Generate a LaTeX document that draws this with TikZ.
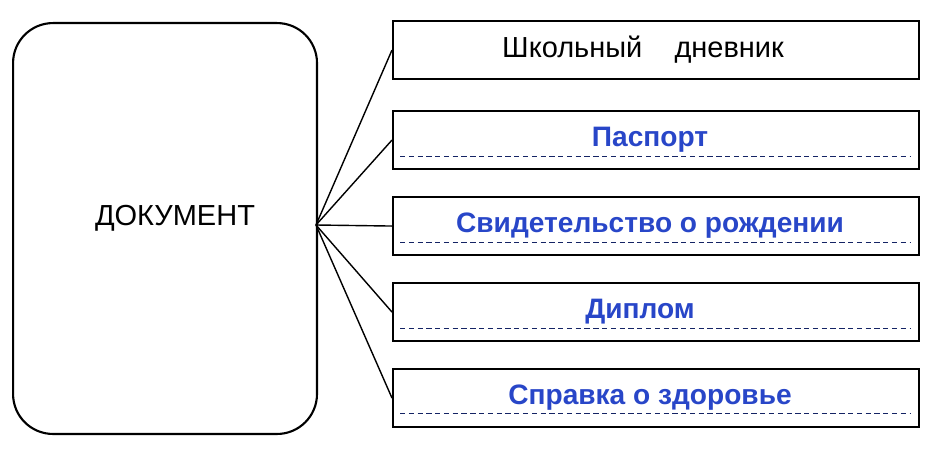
\documentclass[tikz,border=0pt]{standalone}
\usepackage{fontspec}
\setmainfont{Liberation Sans}
\definecolor{ansblue}{RGB}{40,70,200}
\begin{document}
\begin{tikzpicture}[x=0.02cm,y=-0.02cm,
  item/.style={draw,line width=1.2pt,minimum width=10.52cm,minimum height=1.16cm,anchor=north west,inner sep=0pt},
  ans/.style={text=ansblue,font=\fontsize{16}{18}\selectfont\bfseries},
  plain/.style={font=\fontsize{16.5}{18}\selectfont},
  dashline/.style={densely dashed,line width=0.5pt,ansblue!50!black}]
\useasboundingbox (0,0) rectangle (950,449);
\node[draw,line width=1.2pt,rounded corners=0.8cm,minimum width=6.08cm,minimum height=8.22cm,anchor=north west,inner sep=0pt] (doc) at (12,22) {};
\node[plain] (doct) at (175,218) {ДОКУМЕНТ};
\coordinate (hub) at (316,225);
\node[item] (b1) at (392,20) {};
\node[item] (b2) at (392,110) {};
\node[item] (b3) at (392,196) {};
\node[item] (b4) at (392,282) {};
\node[item] (b5) at (392,368) {};
\foreach \b in {b1,b2,b3,b4,b5} \draw[line width=0.8pt] (hub) -- (\b.west);
\node[plain] (t1) at (643,50) {Школьный\ \ \ \ дневник};
\foreach \y in {156,242,328,413} \draw[dashline] (400,\y) -- (910,\y);
\node[ans] (t2) at (650,140) {Паспорт};
\node[ans] (t3) at (650,226) {Свидетельство о рождении};
\node[ans] (t4) at (640,312) {Диплом};
\node[ans] (t5) at (650,398) {Справка о здоровье};
\end{tikzpicture}
\end{document}
